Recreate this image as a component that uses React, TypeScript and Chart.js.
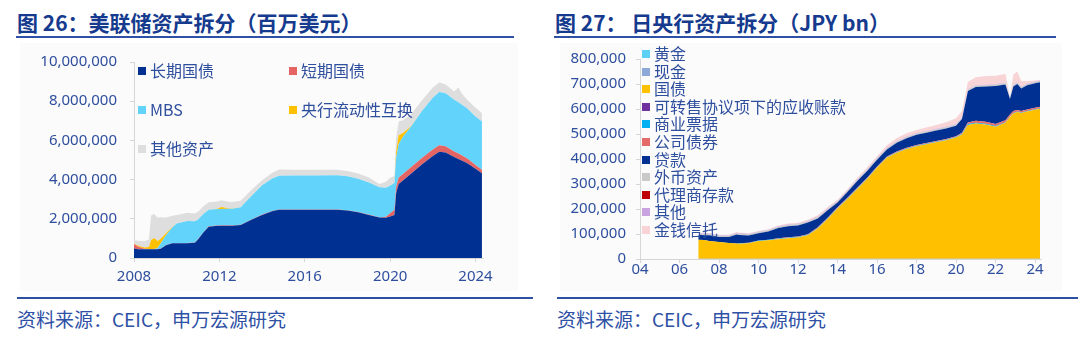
import React, { useEffect, useRef } from 'react';
import { Chart, registerables } from 'chart.js';

Chart.register(...registerables);

const CJK = '"Noto Sans CJK SC", "Noto Sans", sans-serif';
const NUM = '"Noto Sans", "Noto Sans CJK SC", sans-serif';
const TEXT_BLUE = '#2E4E9E';
const TITLE_BLUE = '#153A8E';
const LINE_BLUE = '#2E50A5';
const AXIS_GRAY = '#D6D6D6';

// ---------------- Fed (图 26) ----------------
const FED_LABELS = ['长期国债', '短期国债', 'MBS', '央行流动性互换', '其他资产'];
const FED_COLORS = ['#003092', '#E46464', '#62D3FA', '#FFC000', '#DEDEDE'];
const FED_X_TICKS = [2008, 2012, 2016, 2020, 2024];
const FED_Y_TICKS = [0, 2000000, 4000000, 6000000, 8000000, 10000000];

const FED_DATES = [
  2008.0, 2008.2, 2008.5, 2008.7, 2008.8, 2008.95, 2009.1, 2009.25, 2009.5, 2009.8,
  2010.0, 2010.25, 2010.5, 2010.85, 2011.0, 2011.25, 2011.5, 2011.9, 2012.1, 2012.4,
  2012.6, 2013.0, 2013.5, 2014.0, 2014.5, 2014.8, 2015.5, 2016.5, 2017.5, 2018.0,
  2018.5, 2019.0, 2019.5, 2019.8, 2020.0, 2020.2, 2020.28, 2020.4, 2020.6, 2021.0,
  2021.5, 2022.0, 2022.3, 2022.6, 2023.0, 2023.2, 2023.35, 2023.6, 2024.0, 2024.3,
];
const FED_LONG_TREASURY = [
  480000, 450000, 450000, 450000, 450000, 450000, 450000, 470000, 650000, 750000,
  750000, 750000, 750000, 780000, 950000, 1300000, 1600000, 1640000, 1650000, 1650000,
  1650000, 1680000, 1950000, 2200000, 2400000, 2460000, 2460000, 2460000, 2460000, 2420000,
  2330000, 2200000, 2060000, 2050000, 2120000, 2200000, 3300000, 3780000, 3950000, 4320000,
  4780000, 5200000, 5420000, 5380000, 5150000, 5050000, 4980000, 4850000, 4550000, 4330000,
];
const FED_BILLS = [
  230000, 120000, 20000, 15000, 15000, 15000, 15000, 15000, 15000, 15000,
  15000, 15000, 15000, 15000, 15000, 15000, 15000, 15000, 15000, 15000,
  15000, 15000, 15000, 15000, 15000, 15000, 15000, 15000, 15000, 15000,
  15000, 15000, 15000, 60000, 160000, 260000, 320000, 330000, 330000, 330000,
  330000, 330000, 330000, 320000, 290000, 280000, 260000, 240000, 200000, 170000,
];
const FED_MBS = [
  0, 0, 0, 0, 0, 0, 50000, 250000, 500000, 800000,
  1000000, 1060000, 1120000, 1080000, 1000000, 930000, 850000, 840000, 840000, 850000,
  850000, 900000, 1200000, 1500000, 1650000, 1720000, 1730000, 1740000, 1750000, 1740000,
  1700000, 1640000, 1540000, 1480000, 1410000, 1370000, 1500000, 1700000, 1900000, 2080000,
  2400000, 2650000, 2720000, 2700000, 2640000, 2620000, 2590000, 2550000, 2470000, 2460000,
];
const FED_SWAPS = [
  20000, 60000, 60000, 100000, 450000, 550000, 350000, 250000, 100000, 30000,
  0, 0, 0, 0, 0, 0, 0, 20000, 100000, 20000,
  5000, 0, 0, 0, 0, 0, 0, 0, 0, 0,
  0, 0, 0, 0, 0, 0, 300000, 450000, 200000, 20000,
  0, 0, 0, 0, 0, 0, 0, 0, 0, 0,
];
const FED_OTHER = [
  170000, 250000, 340000, 380000, 1250000, 1230000, 1200000, 1100000, 800000, 560000,
  430000, 420000, 420000, 400000, 400000, 390000, 380000, 370000, 340000, 340000,
  340000, 330000, 300000, 250000, 300000, 320000, 300000, 290000, 280000, 270000,
  260000, 250000, 160000, 300000, 400000, 350000, 700000, 700000, 650000, 600000,
  550000, 520000, 480000, 450000, 420000, 750000, 580000, 450000, 440000, 430000,
];
const FED_SERIES = [FED_LONG_TREASURY, FED_BILLS, FED_MBS, FED_SWAPS, FED_OTHER];

// ---------------- BoJ (图 27) ----------------
const JP_LABELS = ['黄金', '现金', '国债', '可转售协议项下的应收账款', '商业票据', '公司债券', '贷款', '外币资产', '代理商存款', '其他', '金钱信托'];
const JP_COLORS = ['#5CD0F5', '#8FA8DA', '#FFC000', '#7030A0', '#00B0F0', '#E56B6B', '#003092', '#C9C9C9', '#C00000', '#C9A3E0', '#F8D4D6'];
const JP_X_TICKS = [2004, 2006, 2008, 2010, 2012, 2014, 2016, 2018, 2020, 2022, 2024];
const JP_Y_TICKS = [0, 100000, 200000, 300000, 400000, 500000, 600000, 700000, 800000];

const JP_DATES = [
  2006.95, 2007.25, 2007.5, 2007.75, 2008.0, 2008.5, 2008.9, 2009.0, 2009.5, 2010.0,
  2010.5, 2011.0, 2011.5, 2012.0, 2012.5, 2013.0, 2013.5, 2014.0, 2014.5, 2015.0,
  2015.5, 2016.0, 2016.5, 2017.0, 2017.5, 2018.0, 2018.5, 2019.0, 2019.5, 2020.0,
  2020.3, 2020.6, 2021.0, 2021.5, 2022.0, 2022.5, 2022.73, 2022.9, 2023.1, 2023.3,
  2023.6, 2024.0, 2024.25,
];
const JP_GOLD = [
  441, 441, 441, 441, 441, 441, 441, 441, 441, 441,
  441, 441, 441, 441, 441, 441, 441, 441, 441, 441,
  441, 441, 441, 441, 441, 441, 441, 441, 441, 441,
  441, 441, 441, 441, 441, 441, 441, 441, 441, 441,
  441, 441, 441,
];
const JP_CASH = [
  300, 280, 260, 300, 310, 290, 270, 300, 320, 280,
  300, 310, 290, 300, 280, 300, 320, 300, 290, 300,
  310, 300, 290, 300, 280, 300, 310, 300, 290, 300,
  320, 300, 290, 300, 310, 300, 280, 300, 310, 300,
  290, 300, 300,
];
const JP_JGB = [
  76300, 75300, 71300, 69300, 67300, 63300, 61300, 60300, 62300, 71300,
  74300, 78300, 82300, 85300, 94300, 121300, 159300, 201300, 239300, 279300,
  319300, 364300, 404300, 424300, 439300, 450300, 458300, 466300, 474300, 485300,
  497300, 535300, 541300, 537300, 528300, 544300, 567300, 581300, 587300, 583300,
  589300, 596300, 600300,
];
const JP_REPO = [
  0, 0, 0, 0, 0, 0, 0, 0, 0, 0,
  0, 0, 0, 0, 0, 0, 0, 0, 0, 0,
  0, 0, 0, 0, 0, 0, 0, 0, 0, 0,
  0, 0, 0, 0, 0, 0, 0, 0, 0, 0,
  0, 0, 0,
];
const JP_CP = [
  0, 0, 0, 0, 0, 0, 0, 1500, 1000, 1500,
  1500, 1500, 1500, 1500, 1500, 2000, 2000, 2000, 2000, 2000,
  2000, 2000, 2000, 2000, 2000, 2000, 2000, 2000, 2000, 2000,
  2500, 4000, 3000, 2500, 2500, 2000, 2000, 2000, 2000, 2000,
  2000, 2000, 2000,
];
const JP_CORP = [
  0, 0, 0, 0, 0, 0, 0, 500, 500, 0,
  500, 2000, 2000, 2000, 2000, 3000, 3000, 3000, 3000, 3000,
  3000, 3000, 3000, 3000, 3000, 3000, 3000, 3000, 3000, 3000,
  4000, 6000, 8000, 8000, 8000, 8000, 8000, 8000, 6000, 6000,
  6000, 6000, 6000,
];
const JP_LOANS = [
  20000, 19000, 23000, 22000, 20000, 24000, 36000, 33000, 29500, 29500,
  33000, 41500, 44500, 44500, 47500, 35000, 30000, 19000, 23000, 27000,
  27000, 27000, 28000, 35000, 38000, 41000, 41000, 42000, 42000, 42000,
  55500, 126000, 135000, 141500, 152500, 143000, 62000, 98000, 104000, 90000,
  97000, 98000, 98000,
];
const JP_FX = [
  5000, 5000, 5000, 5000, 5000, 5000, 5000, 5000, 5000, 5000,
  5000, 5000, 5000, 5000, 5000, 5000, 5000, 5000, 5000, 5000,
  5000, 5000, 5000, 5000, 5000, 5000, 5000, 5000, 5000, 5000,
  5000, 5000, 5000, 5000, 5000, 5000, 5000, 5000, 5000, 5000,
  5000, 5000, 5000,
];
const JP_AGENCY = [
  200, 200, 200, 200, 200, 200, 200, 200, 200, 200,
  200, 200, 200, 200, 200, 200, 200, 200, 200, 200,
  200, 200, 200, 200, 200, 200, 200, 200, 200, 200,
  200, 200, 200, 200, 200, 200, 200, 200, 200, 200,
  200, 200, 200,
];
const JP_OTHER = [
  1500, 1500, 1500, 1500, 1500, 1500, 1500, 1500, 1500, 1500,
  1500, 1500, 1500, 1500, 1500, 1500, 1500, 1500, 1500, 1500,
  1500, 1500, 1500, 1500, 1500, 1500, 1500, 1500, 1500, 1500,
  1500, 1500, 1500, 1500, 1500, 1500, 1500, 1500, 1500, 1500,
  1500, 1500, 1500,
];
const JP_TRUST = [
  2300, 2300, 2300, 2300, 2300, 2300, 3300, 3300, 2300, 2300,
  2300, 3300, 4300, 4300, 4300, 6300, 6300, 4300, 4300, 6300,
  7300, 7300, 10300, 12300, 13300, 12300, 14300, 15300, 18300, 23300,
  25300, 29300, 32300, 35300, 34300, 35300, 1300, 41300, 43300, 23300,
  10300, 4300, 3300,
];
const JP_SERIES = [JP_GOLD, JP_CASH, JP_JGB, JP_REPO, JP_CP, JP_CORP, JP_LOANS, JP_FX, JP_AGENCY, JP_OTHER, JP_TRUST];

// ---------------- plugin: legend at fixed positions ----------------
const posLegend = {
  id: 'posLegend',
  afterDatasetsDraw(chart: any, _args: any, opts: any) {
    if (!opts || !opts.items) return;
    const ctx = chart.ctx;
    ctx.save();
    ctx.font = `${opts.fontSize}px ${CJK}`;
    ctx.textBaseline = 'middle';
    ctx.textAlign = 'left';
    opts.items.forEach((it: any) => {
      const ds = chart.data.datasets[it.index];
      ctx.fillStyle = ds.backgroundColor;
      ctx.fillRect(it.x, Math.round(it.y - opts.box / 2), opts.box, opts.box);
      ctx.fillStyle = opts.color;
      ctx.fillText(ds.label, it.x + opts.box + opts.gap, it.y);
    });
    ctx.restore();
  },
};

function buildDatasets(labels: string[], colors: string[], dates: number[], series: number[][]) {
  return series.map((vals, i) => ({
    label: labels[i],
    data: dates.map((d, k) => ({ x: d, y: vals[k] })),
    backgroundColor: colors[i],
    borderColor: colors[i],
    borderWidth: 0,
    pointRadius: 0,
    tension: 0,
    fill: i === 0 ? 'origin' : '-1',
  }));
}

function axisCommon() {
  return {
    grid: { display: true, drawOnChartArea: false, drawTicks: true, tickLength: 4, color: AXIS_GRAY },
    border: { display: true, color: AXIS_GRAY, width: 1 },
  };
}

function FedChart() {
  const ref = useRef<HTMLCanvasElement | null>(null);
  useEffect(() => {
    if (!ref.current) return;
    const chart = new Chart(ref.current, {
      type: 'line',
      data: { datasets: buildDatasets(FED_LABELS, FED_COLORS, FED_DATES, FED_SERIES) as any },
      plugins: [posLegend as any],
      options: {
        animation: false,
        responsive: false,
        events: [],
        layout: { padding: { top: 15, right: 57, bottom: 0, left: 0 } },
        plugins: {
          legend: { display: false },
          tooltip: { enabled: false },
          posLegend: {
            fontSize: 16,
            color: TEXT_BLUE,
            box: 8,
            gap: 4,
            items: [
              { index: 0, x: 138, y: 31 },
              { index: 2, x: 138, y: 69.5 },
              { index: 4, x: 138, y: 108.5 },
              { index: 1, x: 289, y: 30.5 },
              { index: 3, x: 289, y: 70 },
            ],
          },
        } as any,
        scales: {
          x: {
            type: 'linear',
            min: 2008,
            max: 2024.35,
            ...axisCommon(),
            afterBuildTicks: (s: any) => { s.ticks = FED_X_TICKS.map((v) => ({ value: v })); },
            afterFit: (s: any) => { s.height = 32; },
            ticks: {
              color: TEXT_BLUE,
              font: { family: NUM, size: 15 },
              padding: 6,
              maxRotation: 0,
              autoSkip: false,
              callback: (v: any) => String(v),
            },
          },
          y: {
            stacked: true,
            min: 0,
            max: 10000000,
            ...axisCommon(),
            afterBuildTicks: (s: any) => { s.ticks = FED_Y_TICKS.map((v) => ({ value: v })); },
            afterFit: (s: any) => { s.width = 134; },
            ticks: {
              color: TEXT_BLUE,
              font: { family: NUM, size: 15 },
              padding: 13,
              callback: (v: any) => Number(v).toLocaleString('en-US'),
            },
          },
        } as any,
      },
    });
    return () => chart.destroy();
  }, []);
  return <canvas ref={ref} width={540} height={250} style={{ width: 540, height: 250, display: 'block' }} />;
}

function BojChart() {
  const ref = useRef<HTMLCanvasElement | null>(null);
  useEffect(() => {
    if (!ref.current) return;
    const chart = new Chart(ref.current, {
      type: 'line',
      data: { datasets: buildDatasets(JP_LABELS, JP_COLORS, JP_DATES, JP_SERIES) as any },
      plugins: [posLegend as any],
      options: {
        animation: false,
        responsive: false,
        events: [],
        layout: { padding: { top: 14, right: 39, bottom: 0, left: 0 } },
        plugins: {
          legend: { display: false },
          tooltip: { enabled: false },
          posLegend: {
            fontSize: 16,
            color: TEXT_BLUE,
            box: 8,
            gap: 4,
            items: JP_LABELS.map((_l, i) => ({ index: i, x: 102, y: 14 + i * 17.6 })),
          },
        } as any,
        scales: {
          x: {
            type: 'linear',
            min: 2004,
            max: 2024.3,
            ...axisCommon(),
            afterBuildTicks: (s: any) => { s.ticks = JP_X_TICKS.map((v) => ({ value: v })); },
            afterFit: (s: any) => { s.height = 31; },
            ticks: {
              color: TEXT_BLUE,
              font: { family: NUM, size: 15 },
              padding: -2,
              maxRotation: 0,
              autoSkip: false,
              callback: (v: any) => String(Number(v) % 100).padStart(2, '0'),
            },
          },
          y: {
            stacked: true,
            min: 0,
            max: 800000,
            ...axisCommon(),
            afterBuildTicks: (s: any) => { s.ticks = JP_Y_TICKS.map((v) => ({ value: v })); },
            afterFit: (s: any) => { s.width = 100; },
            ticks: {
              color: TEXT_BLUE,
              font: { family: NUM, size: 15 },
              padding: 10,
              callback: (v: any) => Number(v).toLocaleString('en-US'),
            },
          },
        } as any,
      },
    });
    return () => chart.destroy();
  }, []);
  return <canvas ref={ref} width={540} height={250} style={{ width: 540, height: 250, display: 'block' }} />;
}

const abs = (s: React.CSSProperties): React.CSSProperties => ({ position: 'absolute', ...s });

export default function App() {
  const titleStyle: React.CSSProperties = {
    fontSize: 21, fontWeight: 700, color: TITLE_BLUE, lineHeight: '28px', whiteSpace: 'nowrap', fontFamily: CJK,
  };
  const footStyle: React.CSSProperties = {
    fontSize: 19, color: LINE_BLUE, lineHeight: '23px', whiteSpace: 'nowrap', fontFamily: CJK,
  };
  return (
    <div style={abs({ left: 0, top: 0, width: 1080, height: 341, background: '#ffffff', overflow: 'hidden', fontFamily: CJK })}>
      <div style={abs({ left: 20, top: 43, width: 498, height: 248, background: '#FBFBFB' })} />
      <div style={abs({ left: 560, top: 43, width: 502, height: 248, background: '#FBFBFB' })} />

      <div style={abs({ left: 17, top: 8, ...titleStyle })}>图 26：美联储资产拆分（百万美元）</div>
      <div style={abs({ left: 16, top: 36, width: 498, height: 2, background: LINE_BLUE })} />
      <div style={abs({ left: 555, top: 8, ...titleStyle })}>图 27： 日央行资产拆分（JPY bn）</div>
      <div style={abs({ left: 554, top: 36, width: 502, height: 2, background: LINE_BLUE })} />

      <div style={abs({ left: 0, top: 40, width: 540, height: 250 })}><FedChart /></div>
      <div style={abs({ left: 540, top: 40, width: 540, height: 250 })}><BojChart /></div>

      <div style={abs({ left: 17, top: 297, width: 516, height: 2, background: LINE_BLUE })} />
      <div style={abs({ left: 557, top: 297, width: 521, height: 2, background: LINE_BLUE })} />
      <div style={abs({ left: 17, top: 307, ...footStyle })}>资料来源：CEIC，申万宏源研究</div>
      <div style={abs({ left: 557, top: 307, ...footStyle })}>资料来源：CEIC，申万宏源研究</div>
    </div>
  );
}
